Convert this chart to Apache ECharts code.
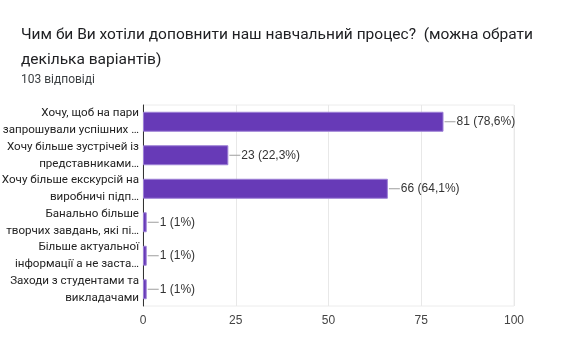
<!DOCTYPE html>
<html><head><meta charset="utf-8">
<script src="https://cdn.jsdelivr.net/npm/echarts@6/dist/echarts.min.js"></script>
<style>html,body{margin:0;padding:0;background:#fff}#c{width:570px;height:364px}</style>
</head><body><div id="c"></div>
<script>
const titleText = 'Чим би Ви хотіли доповнити наш навчальний процес?  (можна обрати\nдекілька варіантів)';
const subText = '103 відповіді';
const categories = [
  'Хочу, щоб на пари\nзапрошували успішних …',
  'Хочу більше зустрічей із\nпредставниками…',
  'Хочу більше екскурсій на\nвиробничі підп…',
  'Банально більше\nтворчих завдань, які пі…',
  'Більше актуальної\nінформації а не заста…',
  'Заходи з студентами та\nвикладачами'
];
const values = [81, 23, 66, 1, 1, 1];
const percents = ['78,6%', '22,3%', '64,1%', '1%', '1%', '1%'];
const xTicks = [0, 25, 50, 75, 100];

const chart = echarts.init(document.getElementById('c'));
chart.setOption({
  animation: false,
  textStyle: {fontFamily: 'Liberation Sans'},
  title: [
    {text: titleText, left: 16, top: 18, textStyle: {fontSize: 15.5, fontWeight: 'normal', color: '#202124', lineHeight: 25, fontFamily: 'Roboto'}},
    {text: subText, left: 16, top: 69, textStyle: {fontSize: 12, fontWeight: 'normal', color: '#3c4043', fontFamily: 'Roboto'}}
  ],
  grid: {left: 143, right: 56, top: 105, bottom: 58, show: true, borderColor: '#ececec', borderWidth: 1, outerBoundsMode: 'none', containLabel: false},
  xAxis: {
    type: 'value', min: xTicks[0], max: xTicks[xTicks.length-1], interval: 25,
    axisLine: {show: false}, axisTick: {show: false},
    splitLine: {lineStyle: {color: '#e8e8e8'}},
    axisLabel: {color: '#444', fontSize: 12, margin: 9, fontFamily: 'Liberation Sans'}
  },
  yAxis: {
    type: 'category', data: categories, inverse: true,
    axisLine: {lineStyle: {color: '#333', width: 1}}, axisTick: {show: false},
    axisLabel: {color: '#222', fontSize: 11.6, lineHeight: 17, margin: 4, align: 'right', interval: 0, fontFamily: 'Roboto'}
  },
  series: [{
    type: 'bar', data: values, barWidth: 20,
    itemStyle: {color: '#673ab7', borderColor: '#9d80d6', borderWidth: 1},
    label: {
      show: true, position: 'right', distance: 1,
      formatter: p => '{ln|}{t|' + p.value + ' (' + percents[p.dataIndex] + ')}',
      rich: {
        ln: {width: 11, height: 1, backgroundColor: '#9e9e9e'},
        t: {fontSize: 12, color: '#333', padding: [0,0,0,1], fontFamily: 'Liberation Sans'}
      }
    }
  }]
});
</script></body></html>
